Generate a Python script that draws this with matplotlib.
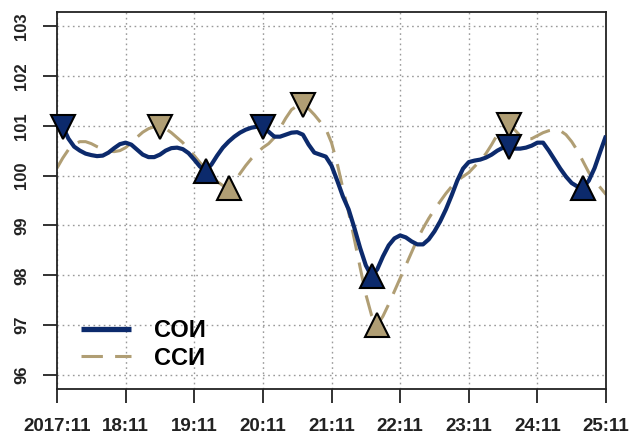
import matplotlib
matplotlib.use("Agg")
import matplotlib.pyplot as plt
import numpy as np

plt.rcParams['font.family'] = ['Liberation Sans', 'DejaVu Sans']

# Monthly values, 2017:11 .. 2025:11 (97 months)
soi = [101.02, 100.98, 100.74, 100.58, 100.50, 100.44, 100.41, 100.39, 100.40, 100.46,
       100.55, 100.63, 100.66, 100.62, 100.52, 100.42, 100.37, 100.37, 100.42, 100.50,
       100.55, 100.56, 100.53, 100.45, 100.32, 100.18, 100.10, 100.22, 100.40, 100.56,
       100.68, 100.78, 100.86, 100.92, 100.96, 100.98, 100.98, 100.88, 100.78, 100.78,
       100.82, 100.86, 100.87, 100.82, 100.62, 100.46, 100.42, 100.38, 100.20, 99.90,
       99.58, 99.32, 98.95, 98.55, 98.20, 97.98, 98.12, 98.38, 98.60, 98.74,
       98.80, 98.76, 98.68, 98.62, 98.62, 98.72, 98.88, 99.08, 99.32, 99.60,
       99.90, 100.14, 100.27, 100.30, 100.32, 100.36, 100.42, 100.50, 100.56, 100.58,
       100.54, 100.54, 100.56, 100.60, 100.66, 100.66, 100.50, 100.32, 100.14, 99.98,
       99.85, 99.78, 99.76, 99.90, 100.15, 100.48, 100.80]

ssi = [100.15, 100.35, 100.52, 100.63, 100.68, 100.68, 100.64, 100.58, 100.53, 100.49,
       100.48, 100.50, 100.56, 100.66, 100.77, 100.87, 100.94, 100.98, 100.98, 100.94,
       100.86, 100.76, 100.66, 100.52, 100.40, 100.26, 100.14, 100.00, 99.88, 99.80,
       99.76, 99.88, 100.04, 100.20, 100.34, 100.46, 100.56, 100.64, 100.76, 100.95,
       101.15, 101.32, 101.40, 101.42, 101.34, 101.22, 101.08, 100.94, 100.66, 100.24,
       99.74, 99.26, 98.72, 98.16, 97.62, 97.20, 97.00, 97.18, 97.42, 97.68,
       97.94, 98.20, 98.46, 98.72, 98.94, 99.14, 99.32, 99.48, 99.64, 99.78,
       99.90, 99.98, 100.06, 100.18, 100.30, 100.44, 100.62, 100.82, 100.98, 101.02,
       100.92, 100.80, 100.74, 100.74, 100.80, 100.86, 100.90, 100.92, 100.90, 100.82,
       100.68, 100.50, 100.28, 100.06, 99.88, 99.76, 99.62]

# turning points (month indices)
soi_peaks = [1, 36, 79]
soi_troughs = [26, 55, 92]
ssi_peaks = [18, 43, 79]
ssi_troughs = [30, 56]

tick_labels = ['2017:11', '18:11', '19:11', '20:11', '21:11', '22:11', '23:11', '24:11', '25:11']
y_ticks = [96, 97, 98, 99, 100, 101, 102, 103]

blue = '#0c2a6c'
tan = '#b09e74'

fig = plt.figure(figsize=(6.3, 4.34), dpi=100)
ax = fig.add_axes([57/630, 1-389/434, (606-57)/630, (389-12)/434])

x = np.arange(len(soi))
soi_a = np.array(soi)
ssi_a = np.array(ssi)

ax.plot(x, soi_a, color=blue, lw=3.0, label='СОИ', zorder=3, solid_capstyle='butt')
ax.plot(x, ssi_a, color=tan, lw=2.2, ls=(0, (7, 4)), label='ССИ', zorder=2)

ms = 17
ax.plot(soi_peaks, soi_a[soi_peaks], 'v', ms=ms, mfc=blue, mec='black', mew=1.5, ls='none', zorder=5, clip_on=False)
ax.plot(soi_troughs, soi_a[soi_troughs], '^', ms=ms, mfc=blue, mec='black', mew=1.5, ls='none', zorder=5)
ax.plot(ssi_peaks, ssi_a[ssi_peaks], 'v', ms=ms, mfc=tan, mec='black', mew=1.5, ls='none', zorder=4)
ax.plot(ssi_troughs, ssi_a[ssi_troughs], '^', ms=ms, mfc=tan, mec='black', mew=1.5, ls='none', zorder=4)

ax.set_xlim(0, 96)
ax.set_ylim(95.72, 103.28)
xt = np.arange(0, 97, 12)
ax.set_xticks(xt)
ax.set_xticklabels(tick_labels, fontsize=13.5, fontweight='bold')
ax.set_yticks(y_ticks)
ax.set_yticklabels([str(v) for v in y_ticks], fontsize=12, fontweight='bold', rotation=90, va='center')
ax.tick_params(axis='x', length=10, width=1.3, pad=11, colors='#222222', labelcolor='#222222')
ax.tick_params(axis='y', length=10, width=1.3, pad=10, colors='#222222', labelcolor='#222222')

ax.grid(True, color='#9a9a9a', ls=(0, (1.2, 2.5)), lw=1.0)
ax.set_axisbelow(True)
for s in ax.spines.values():
    s.set_linewidth(1.3)
    s.set_color('#222222')

leg = ax.legend(loc='lower left', bbox_to_anchor=(0.005, -0.005), frameon=False,
                prop={'size': 17, 'weight': 'bold'}, handlelength=2.1,
                handletextpad=1.0, labelspacing=0.2)
leg.get_lines()[0].set_linewidth(3.8)

fig.savefig('out.png', dpi=100)
